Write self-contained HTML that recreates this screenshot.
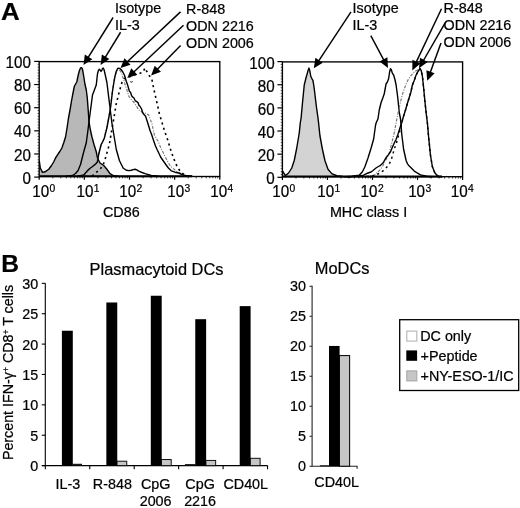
<!DOCTYPE html>
<html lang="en"><head><meta charset="utf-8"><title>Figure</title>
<style>
html,body{margin:0;padding:0;background:#fff;}
body{width:520px;height:508px;overflow:hidden;font-family:"Liberation Sans",sans-serif;}
svg{display:block;}
svg text{font-family:"Liberation Sans",sans-serif;fill:#000;stroke:#000;stroke-width:0.22px;}
.t14{font-size:14px;}
.t16{font-size:16px;}
.tk{font-size:15.6px;}
.b24{font-size:24px;font-weight:bold;fill:#000;}
.c{fill:none;stroke:#000;stroke-width:1.4;stroke-linejoin:round;stroke-linecap:round;}
</style></head><body>
<svg width="520" height="508" viewBox="0 0 520 508">
<rect width="520" height="508" fill="#fff"/>
<path d="M39.40,161.50 L40.30,168.00 L42.50,172.40 L45.00,171.80 L48.75,169.25 L51.50,165.50 L53.75,161.75 L55.50,158.00 L57.50,154.90 L59.80,151.50 L61.90,148.00 L63.80,142.50 L65.60,136.75 L67.20,127.00 L68.50,118.00 L70.00,110.00 L71.50,101.00 L73.00,93.00 L74.30,86.50 L75.60,84.00 L76.80,82.00 L78.00,76.00 L79.30,71.00 L80.40,68.20 L81.30,67.60 L82.20,68.40 L83.00,72.00 L84.00,78.00 L85.00,84.50 L86.30,90.00 L87.25,97.50 L88.20,110.00 L89.00,121.75 L90.40,130.00 L91.90,136.75 L94.00,144.50 L96.25,151.75 L97.50,158.00 L98.75,160.50 L100.00,163.00 L103.75,165.50 L106.90,169.25 L110.00,173.60 L113.75,175.75 L118.00,176.30 L118.00,176.30 L39.40,176.30 Z" fill="#b8b8b8" stroke="none"/>
<path d="M39.40,161.50 L40.30,168.00 L42.50,172.40 L45.00,171.80 L48.75,169.25 L51.50,165.50 L53.75,161.75 L55.50,158.00 L57.50,154.90 L59.80,151.50 L61.90,148.00 L63.80,142.50 L65.60,136.75 L67.20,127.00 L68.50,118.00 L70.00,110.00 L71.50,101.00 L73.00,93.00 L74.30,86.50 L75.60,84.00 L76.80,82.00 L78.00,76.00 L79.30,71.00 L80.40,68.20 L81.30,67.60 L82.20,68.40 L83.00,72.00 L84.00,78.00 L85.00,84.50 L86.30,90.00 L87.25,97.50 L88.20,110.00 L89.00,121.75 L90.40,130.00 L91.90,136.75 L94.00,144.50 L96.25,151.75 L97.50,158.00 L98.75,160.50 L100.00,163.00 L103.75,165.50 L106.90,169.25 L110.00,173.60 L113.75,175.75 L118.00,176.30" class="c"/>
<path d="M66.00,176.30 L72.50,175.50 L75.50,173.50 L78.10,170.50 L80.60,164.25 L83.10,154.25 L84.80,148.00 L86.25,143.00 L87.60,133.00 L89.00,121.75 L90.80,108.00 L92.50,95.00 L94.20,90.50 L96.25,85.00 L97.50,73.75 L98.40,70.50 L99.40,69.20 L100.30,70.40 L101.00,71.40 L101.80,70.40 L102.50,68.60 L103.20,68.10 L104.00,69.50 L105.00,73.75 L106.90,82.50 L108.75,97.50 L110.60,112.50 L111.90,123.00 L113.75,134.25 L116.25,149.25 L119.40,160.50 L123.10,168.00 L126.25,170.25 L129.00,170.60 L131.25,170.25 L133.20,169.60 L135.00,169.25 L136.80,169.90 L138.75,171.10 L142.00,172.50 L145.00,173.60 L151.25,175.50 L158.00,176.30" class="c"/>
<path d="M84.00,176.20 L88.50,170.50 L93.00,166.50 L96.80,163.00 L98.20,156.00 L100.60,146.00 L103.50,140.00 L106.00,131.00 L108.00,121.00 L110.00,110.00 L111.90,94.00 L114.20,79.00 L116.60,71.50 L118.60,70.00 L120.50,71.00 L122.00,74.50 L123.75,80.00 L125.50,86.00 L127.00,90.00 L128.75,96.25 L131.00,99.00 L133.00,101.50 L135.00,103.75 L137.00,107.00 L138.75,110.00 L141.00,111.50 L143.50,112.50 L146.00,113.50 L148.75,115.00 L150.50,120.00 L151.90,123.75 L153.20,129.50 L154.40,135.00 L156.30,138.50 L158.10,141.25 L160.00,146.00 L161.90,150.00 L164.00,154.50 L166.25,158.75 L168.50,163.00 L170.50,166.00 L172.50,168.00 L175.00,170.00 L177.50,171.75 L181.00,173.50 L186.00,175.40" fill="none" stroke="#777" stroke-width="1.15" stroke-dasharray="3 1.4 1 1.4"/>
<path d="M78.00,176.30 L83.75,174.90 L88.75,169.25 L91.50,167.30 L93.75,165.50 L95.60,164.00 L97.50,161.75 L98.75,154.25 L100.00,149.00 L101.25,144.25 L102.80,141.50 L104.40,138.00 L105.60,133.00 L106.90,128.00 L108.75,118.00 L110.60,107.50 L112.50,91.25 L113.80,83.00 L115.00,76.25 L116.20,71.50 L117.50,68.75 L118.60,68.20 L119.80,68.60 L121.25,69.60 L122.80,72.00 L124.40,75.00 L126.25,81.25 L127.80,85.60 L129.40,91.25 L130.60,92.40 L131.60,95.80 L132.50,96.90 L134.00,98.00 L135.20,100.80 L136.25,101.25 L138.00,102.60 L139.00,105.40 L140.00,106.25 L141.60,109.00 L142.50,112.50 L144.00,114.50 L145.60,116.25 L146.80,120.00 L148.75,126.25 L150.20,131.00 L151.60,134.50 L153.75,141.00 L155.50,146.00 L157.30,150.00 L159.00,153.50 L160.60,157.00 L163.00,160.50 L165.80,164.50 L168.40,168.00 L171.25,170.80 L175.00,172.20 L178.75,173.00 L182.00,174.60 L185.00,175.50 L192.00,176.30" class="c"/>
<path d="M92.00,176.00 L96.25,172.40 L100.00,169.25 L102.50,166.00 L104.40,161.75 L106.90,153.00 L109.40,144.25 L111.25,133.00 L113.75,118.75 L116.25,103.75 L119.40,91.25 L121.90,82.50 L124.40,78.75 L128.00,77.20 L131.25,76.25 L134.50,75.00 L137.50,73.75 L140.00,73.20 L142.50,72.50 L144.00,70.00 L145.00,68.00 L146.50,71.00 L148.75,75.00 L150.50,77.00 L151.90,79.40 L153.75,88.75 L155.40,96.00 L156.90,102.50 L159.40,113.75 L161.25,120.00 L164.40,130.50 L167.50,139.25 L171.25,151.75 L175.00,161.75 L177.50,167.40 L180.60,171.75 L184.40,175.00 L188.00,176.20" fill="none" stroke="#000" stroke-width="1.6" stroke-dasharray="2.1 3.4"/>
<path d="M130.3,81.6 q1,1.2 2.4,0" fill="none" stroke="#000" stroke-width="1"/>
<line x1="39.2" y1="176.35" x2="192" y2="176.35" stroke="#000" stroke-width="2"/>
<line x1="34.20" y1="177.10" x2="39.20" y2="177.10" stroke="#000" stroke-width="1.2"/><line x1="37.50" y1="174.21" x2="39.20" y2="174.21" stroke="#000" stroke-width="0.6"/><line x1="37.50" y1="171.31" x2="39.20" y2="171.31" stroke="#000" stroke-width="0.6"/><line x1="37.50" y1="168.42" x2="39.20" y2="168.42" stroke="#000" stroke-width="0.6"/><line x1="37.50" y1="165.53" x2="39.20" y2="165.53" stroke="#000" stroke-width="0.6"/><line x1="37.50" y1="162.64" x2="39.20" y2="162.64" stroke="#000" stroke-width="0.6"/><line x1="37.50" y1="159.75" x2="39.20" y2="159.75" stroke="#000" stroke-width="0.6"/><line x1="37.50" y1="156.85" x2="39.20" y2="156.85" stroke="#000" stroke-width="0.6"/><line x1="34.20" y1="153.96" x2="39.20" y2="153.96" stroke="#000" stroke-width="1.2"/><line x1="37.50" y1="151.07" x2="39.20" y2="151.07" stroke="#000" stroke-width="0.6"/><line x1="37.50" y1="148.17" x2="39.20" y2="148.17" stroke="#000" stroke-width="0.6"/><line x1="37.50" y1="145.28" x2="39.20" y2="145.28" stroke="#000" stroke-width="0.6"/><line x1="37.50" y1="142.39" x2="39.20" y2="142.39" stroke="#000" stroke-width="0.6"/><line x1="37.50" y1="139.50" x2="39.20" y2="139.50" stroke="#000" stroke-width="0.6"/><line x1="37.50" y1="136.60" x2="39.20" y2="136.60" stroke="#000" stroke-width="0.6"/><line x1="37.50" y1="133.71" x2="39.20" y2="133.71" stroke="#000" stroke-width="0.6"/><line x1="34.20" y1="130.82" x2="39.20" y2="130.82" stroke="#000" stroke-width="1.2"/><line x1="37.50" y1="127.93" x2="39.20" y2="127.93" stroke="#000" stroke-width="0.6"/><line x1="37.50" y1="125.03" x2="39.20" y2="125.03" stroke="#000" stroke-width="0.6"/><line x1="37.50" y1="122.14" x2="39.20" y2="122.14" stroke="#000" stroke-width="0.6"/><line x1="37.50" y1="119.25" x2="39.20" y2="119.25" stroke="#000" stroke-width="0.6"/><line x1="37.50" y1="116.36" x2="39.20" y2="116.36" stroke="#000" stroke-width="0.6"/><line x1="37.50" y1="113.46" x2="39.20" y2="113.46" stroke="#000" stroke-width="0.6"/><line x1="37.50" y1="110.57" x2="39.20" y2="110.57" stroke="#000" stroke-width="0.6"/><line x1="34.20" y1="107.68" x2="39.20" y2="107.68" stroke="#000" stroke-width="1.2"/><line x1="37.50" y1="104.79" x2="39.20" y2="104.79" stroke="#000" stroke-width="0.6"/><line x1="37.50" y1="101.89" x2="39.20" y2="101.89" stroke="#000" stroke-width="0.6"/><line x1="37.50" y1="99.00" x2="39.20" y2="99.00" stroke="#000" stroke-width="0.6"/><line x1="37.50" y1="96.11" x2="39.20" y2="96.11" stroke="#000" stroke-width="0.6"/><line x1="37.50" y1="93.22" x2="39.20" y2="93.22" stroke="#000" stroke-width="0.6"/><line x1="37.50" y1="90.32" x2="39.20" y2="90.32" stroke="#000" stroke-width="0.6"/><line x1="37.50" y1="87.43" x2="39.20" y2="87.43" stroke="#000" stroke-width="0.6"/><line x1="34.20" y1="84.54" x2="39.20" y2="84.54" stroke="#000" stroke-width="1.2"/><line x1="37.50" y1="81.65" x2="39.20" y2="81.65" stroke="#000" stroke-width="0.6"/><line x1="37.50" y1="78.75" x2="39.20" y2="78.75" stroke="#000" stroke-width="0.6"/><line x1="37.50" y1="75.86" x2="39.20" y2="75.86" stroke="#000" stroke-width="0.6"/><line x1="37.50" y1="72.97" x2="39.20" y2="72.97" stroke="#000" stroke-width="0.6"/><line x1="37.50" y1="70.08" x2="39.20" y2="70.08" stroke="#000" stroke-width="0.6"/><line x1="37.50" y1="67.18" x2="39.20" y2="67.18" stroke="#000" stroke-width="0.6"/><line x1="37.50" y1="64.29" x2="39.20" y2="64.29" stroke="#000" stroke-width="0.6"/><line x1="34.20" y1="61.40" x2="39.20" y2="61.40" stroke="#000" stroke-width="1.2"/><line x1="39.20" y1="176.50" x2="39.20" y2="179.70" stroke="#000" stroke-width="1.2"/><line x1="52.79" y1="176.50" x2="52.79" y2="178.30" stroke="#000" stroke-width="0.8"/><line x1="60.74" y1="176.50" x2="60.74" y2="178.30" stroke="#000" stroke-width="0.8"/><line x1="66.38" y1="176.50" x2="66.38" y2="178.30" stroke="#000" stroke-width="0.8"/><line x1="70.76" y1="176.50" x2="70.76" y2="178.30" stroke="#000" stroke-width="0.8"/><line x1="74.33" y1="176.50" x2="74.33" y2="178.30" stroke="#000" stroke-width="0.8"/><line x1="77.36" y1="176.50" x2="77.36" y2="178.30" stroke="#000" stroke-width="0.8"/><line x1="79.97" y1="176.50" x2="79.97" y2="178.30" stroke="#000" stroke-width="0.8"/><line x1="82.28" y1="176.50" x2="82.28" y2="178.30" stroke="#000" stroke-width="0.8"/><line x1="84.35" y1="176.50" x2="84.35" y2="179.70" stroke="#000" stroke-width="1.2"/><line x1="97.94" y1="176.50" x2="97.94" y2="178.30" stroke="#000" stroke-width="0.8"/><line x1="105.89" y1="176.50" x2="105.89" y2="178.30" stroke="#000" stroke-width="0.8"/><line x1="111.53" y1="176.50" x2="111.53" y2="178.30" stroke="#000" stroke-width="0.8"/><line x1="115.91" y1="176.50" x2="115.91" y2="178.30" stroke="#000" stroke-width="0.8"/><line x1="119.48" y1="176.50" x2="119.48" y2="178.30" stroke="#000" stroke-width="0.8"/><line x1="122.51" y1="176.50" x2="122.51" y2="178.30" stroke="#000" stroke-width="0.8"/><line x1="125.12" y1="176.50" x2="125.12" y2="178.30" stroke="#000" stroke-width="0.8"/><line x1="127.43" y1="176.50" x2="127.43" y2="178.30" stroke="#000" stroke-width="0.8"/><line x1="129.50" y1="176.50" x2="129.50" y2="179.70" stroke="#000" stroke-width="1.2"/><line x1="143.09" y1="176.50" x2="143.09" y2="178.30" stroke="#000" stroke-width="0.8"/><line x1="151.04" y1="176.50" x2="151.04" y2="178.30" stroke="#000" stroke-width="0.8"/><line x1="156.68" y1="176.50" x2="156.68" y2="178.30" stroke="#000" stroke-width="0.8"/><line x1="161.06" y1="176.50" x2="161.06" y2="178.30" stroke="#000" stroke-width="0.8"/><line x1="164.63" y1="176.50" x2="164.63" y2="178.30" stroke="#000" stroke-width="0.8"/><line x1="167.66" y1="176.50" x2="167.66" y2="178.30" stroke="#000" stroke-width="0.8"/><line x1="170.27" y1="176.50" x2="170.27" y2="178.30" stroke="#000" stroke-width="0.8"/><line x1="172.58" y1="176.50" x2="172.58" y2="178.30" stroke="#000" stroke-width="0.8"/><line x1="174.65" y1="176.50" x2="174.65" y2="179.70" stroke="#000" stroke-width="1.2"/><line x1="188.24" y1="176.50" x2="188.24" y2="178.30" stroke="#000" stroke-width="0.8"/><line x1="196.19" y1="176.50" x2="196.19" y2="178.30" stroke="#000" stroke-width="0.8"/><line x1="201.83" y1="176.50" x2="201.83" y2="178.30" stroke="#000" stroke-width="0.8"/><line x1="206.21" y1="176.50" x2="206.21" y2="178.30" stroke="#000" stroke-width="0.8"/><line x1="209.78" y1="176.50" x2="209.78" y2="178.30" stroke="#000" stroke-width="0.8"/><line x1="212.81" y1="176.50" x2="212.81" y2="178.30" stroke="#000" stroke-width="0.8"/><line x1="215.42" y1="176.50" x2="215.42" y2="178.30" stroke="#000" stroke-width="0.8"/><line x1="217.73" y1="176.50" x2="217.73" y2="178.30" stroke="#000" stroke-width="0.8"/><line x1="219.80" y1="176.50" x2="219.80" y2="179.70" stroke="#000" stroke-width="1.2"/><rect x="39.20" y="61.60" width="180.60" height="114.90" fill="none" stroke="#000" stroke-width="1.35"/>
<path d="M282.40,172.50 L283.00,171.60 L283.80,173.20 L285.50,175.50 L288.60,173.00 L291.75,168.00 L294.25,160.50 L296.75,148.00 L299.25,133.00 L300.25,123.00 L301.10,118.00 L302.40,103.75 L304.25,85.00 L306.10,77.50 L307.20,73.60 L308.20,70.00 L309.00,68.10 L309.80,70.60 L310.75,76.25 L312.00,78.80 L313.00,80.60 L314.25,88.75 L316.50,107.50 L318.00,118.00 L318.60,123.00 L319.90,135.50 L322.40,149.25 L324.90,160.50 L328.00,169.25 L331.75,173.60 L336.75,175.75 L343.00,176.50 L350.00,176.70 L350.00,176.70 L282.40,176.70 Z" fill="#d3d3d3" stroke="none"/>
<path d="M282.40,172.50 L283.00,171.60 L283.80,173.20 L285.50,175.50 L288.60,173.00 L291.75,168.00 L294.25,160.50 L296.75,148.00 L299.25,133.00 L300.25,123.00 L301.10,118.00 L302.40,103.75 L304.25,85.00 L306.10,77.50 L307.20,73.60 L308.20,70.00 L309.00,68.10 L309.80,70.60 L310.75,76.25 L312.00,78.80 L313.00,80.60 L314.25,88.75 L316.50,107.50 L318.00,118.00 L318.60,123.00 L319.90,135.50 L322.40,149.25 L324.90,160.50 L328.00,169.25 L331.75,173.60 L336.75,175.75 L343.00,176.50 L350.00,176.70" class="c"/>
<path d="M345.00,176.70 L352.00,176.30 L359.25,175.25 L362.40,171.75 L364.90,166.75 L368.00,158.00 L371.10,148.00 L373.60,139.25 L375.50,125.50 L376.10,123.00 L378.00,118.75 L379.25,110.00 L381.10,102.50 L382.80,98.00 L384.25,93.75 L386.10,83.75 L387.40,82.00 L388.60,78.75 L389.60,72.00 L390.50,68.75 L391.40,70.00 L392.40,73.40 L393.60,75.00 L394.80,79.00 L396.10,85.00 L397.75,97.50 L399.25,112.50 L400.50,118.75 L401.75,134.25 L403.60,149.25 L406.10,160.50 L407.50,163.80 L409.25,166.10 L414.25,171.10 L420.50,174.90 L426.75,176.25 L432.00,176.70" class="c"/>
<path d="M366.00,176.30 L374.25,175.25 L377.50,172.50 L380.50,169.25 L383.00,165.50 L385.50,160.50 L387.40,157.00 L389.25,153.00 L391.75,143.00 L394.25,133.00 L396.10,123.00 L397.80,114.00 L399.25,107.50 L401.00,100.00 L403.00,92.50 L404.80,87.50 L406.75,82.50 L408.50,79.00 L410.50,76.25 L413.00,73.30 L415.50,71.25 L418.00,69.80 L420.00,69.40" fill="none" stroke="#777" stroke-width="1.15" stroke-dasharray="3 1.4 1 1.4"/>
<path d="M350.00,176.70 L357.00,176.20 L363.00,175.50 L366.00,173.80 L368.00,173.00 L371.00,172.00 L373.00,170.50 L376.00,168.00 L378.00,166.75 L380.50,165.30 L383.00,163.00 L385.00,159.50 L386.75,156.75 L388.50,154.60 L390.50,151.75 L392.50,147.00 L394.25,143.00 L396.00,139.50 L398.00,134.25 L401.10,124.25 L401.75,123.00 L403.00,118.00 L405.50,110.00 L407.50,103.00 L409.25,97.50 L410.80,92.50 L412.40,85.00 L414.20,80.50 L416.10,75.00 L418.00,71.50 L419.90,68.75 L421.20,70.50 L422.40,76.25 L423.60,87.50 L424.90,101.25 L426.10,112.50 L427.40,123.00 L428.60,136.75 L430.50,155.50 L432.40,166.75 L434.90,173.00 L438.00,176.25 L442.00,176.70" class="c"/>
<path d="M372.00,176.20 L380.50,173.00 L385.50,168.60 L389.25,164.25 L391.75,158.00 L394.25,149.25 L396.40,143.00 L398.60,135.50 L401.20,126.00 L401.75,123.00 L403.00,118.00 L405.50,110.00 L407.50,103.00 L409.25,97.50 L410.80,92.50 L412.40,85.00 L414.20,80.50 L416.10,75.00 L418.00,71.50 L419.90,68.75 L421.20,70.50 L422.40,76.25 L423.60,87.50 L424.90,101.25 L426.10,112.50 L427.40,123.00 L428.60,136.75 L430.50,155.50 L432.40,166.75 L434.90,173.00 L438.00,176.25 L442.00,176.70" fill="none" stroke="#000" stroke-width="1.45" stroke-dasharray="2.1 3.4"/>
<line x1="282.4" y1="176.55" x2="442" y2="176.55" stroke="#000" stroke-width="2"/>
<line x1="277.40" y1="177.30" x2="282.40" y2="177.30" stroke="#000" stroke-width="1.2"/><line x1="280.70" y1="174.41" x2="282.40" y2="174.41" stroke="#000" stroke-width="0.6"/><line x1="280.70" y1="171.51" x2="282.40" y2="171.51" stroke="#000" stroke-width="0.6"/><line x1="280.70" y1="168.62" x2="282.40" y2="168.62" stroke="#000" stroke-width="0.6"/><line x1="280.70" y1="165.73" x2="282.40" y2="165.73" stroke="#000" stroke-width="0.6"/><line x1="280.70" y1="162.84" x2="282.40" y2="162.84" stroke="#000" stroke-width="0.6"/><line x1="280.70" y1="159.94" x2="282.40" y2="159.94" stroke="#000" stroke-width="0.6"/><line x1="280.70" y1="157.05" x2="282.40" y2="157.05" stroke="#000" stroke-width="0.6"/><line x1="277.40" y1="154.16" x2="282.40" y2="154.16" stroke="#000" stroke-width="1.2"/><line x1="280.70" y1="151.27" x2="282.40" y2="151.27" stroke="#000" stroke-width="0.6"/><line x1="280.70" y1="148.37" x2="282.40" y2="148.37" stroke="#000" stroke-width="0.6"/><line x1="280.70" y1="145.48" x2="282.40" y2="145.48" stroke="#000" stroke-width="0.6"/><line x1="280.70" y1="142.59" x2="282.40" y2="142.59" stroke="#000" stroke-width="0.6"/><line x1="280.70" y1="139.70" x2="282.40" y2="139.70" stroke="#000" stroke-width="0.6"/><line x1="280.70" y1="136.80" x2="282.40" y2="136.80" stroke="#000" stroke-width="0.6"/><line x1="280.70" y1="133.91" x2="282.40" y2="133.91" stroke="#000" stroke-width="0.6"/><line x1="277.40" y1="131.02" x2="282.40" y2="131.02" stroke="#000" stroke-width="1.2"/><line x1="280.70" y1="128.13" x2="282.40" y2="128.13" stroke="#000" stroke-width="0.6"/><line x1="280.70" y1="125.23" x2="282.40" y2="125.23" stroke="#000" stroke-width="0.6"/><line x1="280.70" y1="122.34" x2="282.40" y2="122.34" stroke="#000" stroke-width="0.6"/><line x1="280.70" y1="119.45" x2="282.40" y2="119.45" stroke="#000" stroke-width="0.6"/><line x1="280.70" y1="116.56" x2="282.40" y2="116.56" stroke="#000" stroke-width="0.6"/><line x1="280.70" y1="113.66" x2="282.40" y2="113.66" stroke="#000" stroke-width="0.6"/><line x1="280.70" y1="110.77" x2="282.40" y2="110.77" stroke="#000" stroke-width="0.6"/><line x1="277.40" y1="107.88" x2="282.40" y2="107.88" stroke="#000" stroke-width="1.2"/><line x1="280.70" y1="104.99" x2="282.40" y2="104.99" stroke="#000" stroke-width="0.6"/><line x1="280.70" y1="102.09" x2="282.40" y2="102.09" stroke="#000" stroke-width="0.6"/><line x1="280.70" y1="99.20" x2="282.40" y2="99.20" stroke="#000" stroke-width="0.6"/><line x1="280.70" y1="96.31" x2="282.40" y2="96.31" stroke="#000" stroke-width="0.6"/><line x1="280.70" y1="93.42" x2="282.40" y2="93.42" stroke="#000" stroke-width="0.6"/><line x1="280.70" y1="90.52" x2="282.40" y2="90.52" stroke="#000" stroke-width="0.6"/><line x1="280.70" y1="87.63" x2="282.40" y2="87.63" stroke="#000" stroke-width="0.6"/><line x1="277.40" y1="84.74" x2="282.40" y2="84.74" stroke="#000" stroke-width="1.2"/><line x1="280.70" y1="81.85" x2="282.40" y2="81.85" stroke="#000" stroke-width="0.6"/><line x1="280.70" y1="78.95" x2="282.40" y2="78.95" stroke="#000" stroke-width="0.6"/><line x1="280.70" y1="76.06" x2="282.40" y2="76.06" stroke="#000" stroke-width="0.6"/><line x1="280.70" y1="73.17" x2="282.40" y2="73.17" stroke="#000" stroke-width="0.6"/><line x1="280.70" y1="70.28" x2="282.40" y2="70.28" stroke="#000" stroke-width="0.6"/><line x1="280.70" y1="67.38" x2="282.40" y2="67.38" stroke="#000" stroke-width="0.6"/><line x1="280.70" y1="64.49" x2="282.40" y2="64.49" stroke="#000" stroke-width="0.6"/><line x1="277.40" y1="61.60" x2="282.40" y2="61.60" stroke="#000" stroke-width="1.2"/><line x1="282.40" y1="176.70" x2="282.40" y2="179.90" stroke="#000" stroke-width="1.2"/><line x1="295.96" y1="176.70" x2="295.96" y2="178.50" stroke="#000" stroke-width="0.8"/><line x1="303.89" y1="176.70" x2="303.89" y2="178.50" stroke="#000" stroke-width="0.8"/><line x1="309.52" y1="176.70" x2="309.52" y2="178.50" stroke="#000" stroke-width="0.8"/><line x1="313.89" y1="176.70" x2="313.89" y2="178.50" stroke="#000" stroke-width="0.8"/><line x1="317.46" y1="176.70" x2="317.46" y2="178.50" stroke="#000" stroke-width="0.8"/><line x1="320.47" y1="176.70" x2="320.47" y2="178.50" stroke="#000" stroke-width="0.8"/><line x1="323.08" y1="176.70" x2="323.08" y2="178.50" stroke="#000" stroke-width="0.8"/><line x1="325.39" y1="176.70" x2="325.39" y2="178.50" stroke="#000" stroke-width="0.8"/><line x1="327.45" y1="176.70" x2="327.45" y2="179.90" stroke="#000" stroke-width="1.2"/><line x1="341.01" y1="176.70" x2="341.01" y2="178.50" stroke="#000" stroke-width="0.8"/><line x1="348.94" y1="176.70" x2="348.94" y2="178.50" stroke="#000" stroke-width="0.8"/><line x1="354.57" y1="176.70" x2="354.57" y2="178.50" stroke="#000" stroke-width="0.8"/><line x1="358.94" y1="176.70" x2="358.94" y2="178.50" stroke="#000" stroke-width="0.8"/><line x1="362.51" y1="176.70" x2="362.51" y2="178.50" stroke="#000" stroke-width="0.8"/><line x1="365.52" y1="176.70" x2="365.52" y2="178.50" stroke="#000" stroke-width="0.8"/><line x1="368.13" y1="176.70" x2="368.13" y2="178.50" stroke="#000" stroke-width="0.8"/><line x1="370.44" y1="176.70" x2="370.44" y2="178.50" stroke="#000" stroke-width="0.8"/><line x1="372.50" y1="176.70" x2="372.50" y2="179.90" stroke="#000" stroke-width="1.2"/><line x1="386.06" y1="176.70" x2="386.06" y2="178.50" stroke="#000" stroke-width="0.8"/><line x1="393.99" y1="176.70" x2="393.99" y2="178.50" stroke="#000" stroke-width="0.8"/><line x1="399.62" y1="176.70" x2="399.62" y2="178.50" stroke="#000" stroke-width="0.8"/><line x1="403.99" y1="176.70" x2="403.99" y2="178.50" stroke="#000" stroke-width="0.8"/><line x1="407.56" y1="176.70" x2="407.56" y2="178.50" stroke="#000" stroke-width="0.8"/><line x1="410.57" y1="176.70" x2="410.57" y2="178.50" stroke="#000" stroke-width="0.8"/><line x1="413.18" y1="176.70" x2="413.18" y2="178.50" stroke="#000" stroke-width="0.8"/><line x1="415.49" y1="176.70" x2="415.49" y2="178.50" stroke="#000" stroke-width="0.8"/><line x1="417.55" y1="176.70" x2="417.55" y2="179.90" stroke="#000" stroke-width="1.2"/><line x1="431.11" y1="176.70" x2="431.11" y2="178.50" stroke="#000" stroke-width="0.8"/><line x1="439.04" y1="176.70" x2="439.04" y2="178.50" stroke="#000" stroke-width="0.8"/><line x1="444.67" y1="176.70" x2="444.67" y2="178.50" stroke="#000" stroke-width="0.8"/><line x1="449.04" y1="176.70" x2="449.04" y2="178.50" stroke="#000" stroke-width="0.8"/><line x1="452.61" y1="176.70" x2="452.61" y2="178.50" stroke="#000" stroke-width="0.8"/><line x1="455.62" y1="176.70" x2="455.62" y2="178.50" stroke="#000" stroke-width="0.8"/><line x1="458.23" y1="176.70" x2="458.23" y2="178.50" stroke="#000" stroke-width="0.8"/><line x1="460.54" y1="176.70" x2="460.54" y2="178.50" stroke="#000" stroke-width="0.8"/><line x1="462.60" y1="176.70" x2="462.60" y2="179.90" stroke="#000" stroke-width="1.2"/><rect x="282.40" y="61.90" width="180.20" height="114.80" fill="none" stroke="#000" stroke-width="1.35"/>
<text transform="translate(30.90,183.66) scale(0.975,1)" text-anchor="end" class="tk">0</text><text transform="translate(30.90,160.52) scale(0.975,1)" text-anchor="end" class="tk">20</text><text transform="translate(30.90,137.38) scale(0.975,1)" text-anchor="end" class="tk">40</text><text transform="translate(30.90,114.24) scale(0.975,1)" text-anchor="end" class="tk">60</text><text transform="translate(30.90,91.10) scale(0.975,1)" text-anchor="end" class="tk">80</text><text transform="translate(30.90,67.96) scale(0.975,1)" text-anchor="end" class="tk">100</text><text transform="translate(32.20,197.10) scale(0.975,1)" class="tk">10</text><text transform="translate(49.50,191.80) scale(1.0,1)" font-size="10.3">0</text><text transform="translate(76.45,197.10) scale(0.975,1)" class="tk">10</text><text transform="translate(93.75,191.80) scale(1.0,1)" font-size="10.3">1</text><text transform="translate(119.30,197.10) scale(0.975,1)" class="tk">10</text><text transform="translate(136.60,191.80) scale(1.0,1)" font-size="10.3">2</text><text transform="translate(167.20,197.10) scale(0.975,1)" class="tk">10</text><text transform="translate(184.50,191.80) scale(1.0,1)" font-size="10.3">3</text><text transform="translate(210.20,197.10) scale(0.975,1)" class="tk">10</text><text transform="translate(227.50,191.80) scale(1.0,1)" font-size="10.3">4</text>
<text transform="translate(274.60,184.26) scale(0.975,1)" text-anchor="end" class="tk">0</text><text transform="translate(274.60,161.12) scale(0.975,1)" text-anchor="end" class="tk">20</text><text transform="translate(274.60,137.98) scale(0.975,1)" text-anchor="end" class="tk">40</text><text transform="translate(274.60,114.84) scale(0.975,1)" text-anchor="end" class="tk">60</text><text transform="translate(274.60,91.70) scale(0.975,1)" text-anchor="end" class="tk">80</text><text transform="translate(274.60,68.56) scale(0.975,1)" text-anchor="end" class="tk">100</text><text transform="translate(272.30,197.30) scale(0.975,1)" class="tk">10</text><text transform="translate(289.60,192.00) scale(1.0,1)" font-size="10.3">0</text><text transform="translate(317.30,197.30) scale(0.975,1)" class="tk">10</text><text transform="translate(334.60,192.00) scale(1.0,1)" font-size="10.3">1</text><text transform="translate(360.60,197.30) scale(0.975,1)" class="tk">10</text><text transform="translate(377.90,192.00) scale(1.0,1)" font-size="10.3">2</text><text transform="translate(408.15,197.30) scale(0.975,1)" class="tk">10</text><text transform="translate(425.45,192.00) scale(1.0,1)" font-size="10.3">3</text><text transform="translate(450.70,197.30) scale(0.975,1)" class="tk">10</text><text transform="translate(468.00,192.00) scale(1.0,1)" font-size="10.3">4</text>
<line x1="113.10" y1="17.50" x2="88.05" y2="57.70" stroke="#000" stroke-width="1.45"/><polygon points="83.50,65.00 84.84,54.53 92.31,59.18" fill="#000"/>
<line x1="120.60" y1="32.25" x2="105.08" y2="57.66" stroke="#000" stroke-width="1.45"/><polygon points="100.60,65.00 101.85,54.51 109.36,59.10" fill="#000"/>
<line x1="180.50" y1="11.90" x2="126.78" y2="62.22" stroke="#000" stroke-width="1.45"/><polygon points="120.50,68.10 124.50,58.33 130.51,64.75" fill="#000"/>
<line x1="183.50" y1="25.20" x2="133.56" y2="72.21" stroke="#000" stroke-width="1.45"/><polygon points="127.30,78.10 131.27,68.32 137.31,74.72" fill="#000"/>
<line x1="180.60" y1="45.60" x2="157.13" y2="69.47" stroke="#000" stroke-width="1.45"/><polygon points="151.10,75.60 154.69,65.67 160.97,71.84" fill="#000"/>
<line x1="351.00" y1="11.90" x2="318.54" y2="61.12" stroke="#000" stroke-width="1.45"/><polygon points="313.80,68.30 315.41,57.86 322.76,62.71" fill="#000"/>
<line x1="370.80" y1="35.60" x2="383.96" y2="60.31" stroke="#000" stroke-width="1.45"/><polygon points="388.00,67.90 379.60,61.49 387.37,57.36" fill="#000"/>
<line x1="441.50" y1="8.75" x2="415.98" y2="62.63" stroke="#000" stroke-width="1.45"/><polygon points="412.30,70.40 412.43,59.84 420.39,63.61" fill="#000"/>
<line x1="445.00" y1="23.10" x2="423.30" y2="60.75" stroke="#000" stroke-width="1.45"/><polygon points="419.00,68.20 419.98,57.69 427.61,62.08" fill="#000"/>
<line x1="441.00" y1="43.10" x2="430.16" y2="72.72" stroke="#000" stroke-width="1.45"/><polygon points="427.20,80.80 426.37,70.27 434.63,73.30" fill="#000"/>
<text transform="translate(1.1,20) scale(1.08,1)" class="b24">A</text>
<text transform="translate(115,12.6) scale(1.025,1)" class="t14">Isotype</text>
<text transform="translate(115,29.5) scale(1.025,1)" class="t14">IL-3</text>
<text transform="translate(186.1,13.7) scale(1.025,1)" class="t14">R-848</text>
<text transform="translate(186.1,31.1) scale(1.025,1)" class="t14">ODN 2216</text>
<text transform="translate(186.1,48.3) scale(1.025,1)" class="t14">ODN 2006</text>
<text transform="translate(352.6,13.1) scale(1.025,1)" class="t14">Isotype</text>
<text transform="translate(352.6,29.8) scale(1.025,1)" class="t14">IL-3</text>
<text transform="translate(443.6,12.6) scale(1.025,1)" class="t14">R-848</text>
<text transform="translate(443.6,30) scale(1.025,1)" class="t14">ODN 2216</text>
<text transform="translate(443.6,47.3) scale(1.025,1)" class="t14">ODN 2006</text>
<text transform="translate(103,216.8) scale(1.025,1)" class="t14">CD86</text>
<text transform="translate(329.9,217.1) scale(1.025,1)" class="t14">MHC class I</text>
<text transform="translate(1.2,271.8) scale(1.025,1)" class="b24">B</text>
<text transform="translate(89.6,274.6) scale(1.025,1)" class="t16">Plasmacytoid DCs</text>
<text transform="translate(314.8,274.4) scale(1.025,1)" class="t16">MoDCs</text>
<path d="M45.3,283.35 V469.20 M41.8,465.6 H267.55" stroke="#000" stroke-width="1.1" fill="none"/>
<line x1="41.8" y1="465.60" x2="45.3" y2="465.60" stroke="#000" stroke-width="1.1"/>
<text transform="translate(38.30,471.20) scale(1.025,1)" text-anchor="end" class="t14">0</text>
<line x1="41.8" y1="435.23" x2="45.3" y2="435.23" stroke="#000" stroke-width="1.1"/>
<text transform="translate(38.30,440.83) scale(1.025,1)" text-anchor="end" class="t14">5</text>
<line x1="41.8" y1="404.85" x2="45.3" y2="404.85" stroke="#000" stroke-width="1.1"/>
<text transform="translate(38.30,410.45) scale(1.025,1)" text-anchor="end" class="t14">10</text>
<line x1="41.8" y1="374.48" x2="45.3" y2="374.48" stroke="#000" stroke-width="1.1"/>
<text transform="translate(38.30,380.08) scale(1.025,1)" text-anchor="end" class="t14">15</text>
<line x1="41.8" y1="344.10" x2="45.3" y2="344.10" stroke="#000" stroke-width="1.1"/>
<text transform="translate(38.30,349.70) scale(1.025,1)" text-anchor="end" class="t14">20</text>
<line x1="41.8" y1="313.73" x2="45.3" y2="313.73" stroke="#000" stroke-width="1.1"/>
<text transform="translate(38.30,319.33) scale(1.025,1)" text-anchor="end" class="t14">25</text>
<line x1="41.8" y1="283.35" x2="45.3" y2="283.35" stroke="#000" stroke-width="1.1"/>
<text transform="translate(38.30,288.95) scale(1.025,1)" text-anchor="end" class="t14">30</text>
<line x1="89.75" y1="465.6" x2="89.75" y2="469.20" stroke="#000" stroke-width="1.1"/>
<line x1="134.20" y1="465.6" x2="134.20" y2="469.20" stroke="#000" stroke-width="1.1"/>
<line x1="178.65" y1="465.6" x2="178.65" y2="469.20" stroke="#000" stroke-width="1.1"/>
<line x1="223.10" y1="465.6" x2="223.10" y2="469.20" stroke="#000" stroke-width="1.1"/>
<line x1="267.55" y1="465.6" x2="267.55" y2="469.20" stroke="#000" stroke-width="1.1"/>
<rect x="72.60" y="463.78" width="9.4" height="1.82" fill="#1a1a1a" stroke="none"/>
<rect x="61.90" y="330.74" width="10.9" height="134.87" fill="#000"/>
<text transform="translate(67.93,488.50) scale(1.025,1)" text-anchor="middle" class="t14">IL-3</text>
<rect x="116.85" y="461.23" width="9.9" height="4.37" fill="#c6c6c6" stroke="#111" stroke-width="1"/>
<rect x="106.35" y="302.49" width="10.9" height="163.11" fill="#000"/>
<text transform="translate(112.38,488.50) scale(1.025,1)" text-anchor="middle" class="t14">R-848</text>
<rect x="161.30" y="459.53" width="9.9" height="6.08" fill="#c6c6c6" stroke="#111" stroke-width="1"/>
<rect x="150.80" y="295.74" width="10.9" height="169.86" fill="#000"/>
<text transform="translate(155.62,488.50) scale(1.025,1)" text-anchor="middle" class="t14">CpG</text>
<text transform="translate(155.62,505.50) scale(1.025,1)" text-anchor="middle" class="t14">2006</text>
<rect x="184.95" y="464.10" width="10.3" height="1.5" fill="#111"/>
<rect x="205.75" y="460.44" width="9.9" height="5.16" fill="#c6c6c6" stroke="#111" stroke-width="1"/>
<rect x="195.25" y="319.19" width="10.9" height="146.41" fill="#000"/>
<text transform="translate(200.08,488.50) scale(1.025,1)" text-anchor="middle" class="t14">CpG</text>
<text transform="translate(200.08,505.50) scale(1.025,1)" text-anchor="middle" class="t14">2216</text>
<rect x="250.20" y="458.31" width="9.9" height="7.29" fill="#c6c6c6" stroke="#111" stroke-width="1"/>
<rect x="239.70" y="306.13" width="10.9" height="159.47" fill="#000"/>
<text transform="translate(245.73,488.50) scale(1.025,1)" text-anchor="middle" class="t14">CD40L</text>
<text transform="translate(13.2,460.1) rotate(-90) scale(1.021,1)" class="t14">Percent IFN-γ<tspan dy="-4.6" font-size="8.4">+</tspan><tspan dy="4.6"> CD8</tspan><tspan dy="-4.6" font-size="8.4">+</tspan><tspan dy="4.6"> T cells</tspan></text>
<path d="M312.1,285.75 V466.25 H357.10 V468.75" stroke="#222" stroke-width="1.1" fill="none"/>
<line x1="309.5" y1="466.25" x2="312.1" y2="466.25" stroke="#222" stroke-width="1"/>
<text transform="translate(305.90,471.25) scale(1.025,1)" text-anchor="end" class="t14">0</text>
<line x1="309.5" y1="436.25" x2="312.1" y2="436.25" stroke="#222" stroke-width="1"/>
<text transform="translate(305.90,441.25) scale(1.025,1)" text-anchor="end" class="t14">5</text>
<line x1="309.5" y1="406.25" x2="312.1" y2="406.25" stroke="#222" stroke-width="1"/>
<text transform="translate(305.90,411.25) scale(1.025,1)" text-anchor="end" class="t14">10</text>
<line x1="309.5" y1="376.25" x2="312.1" y2="376.25" stroke="#222" stroke-width="1"/>
<text transform="translate(305.90,381.25) scale(1.025,1)" text-anchor="end" class="t14">15</text>
<line x1="309.5" y1="346.25" x2="312.1" y2="346.25" stroke="#222" stroke-width="1"/>
<text transform="translate(305.90,351.25) scale(1.025,1)" text-anchor="end" class="t14">20</text>
<line x1="309.5" y1="316.25" x2="312.1" y2="316.25" stroke="#222" stroke-width="1"/>
<text transform="translate(305.90,321.25) scale(1.025,1)" text-anchor="end" class="t14">25</text>
<line x1="309.5" y1="286.25" x2="312.1" y2="286.25" stroke="#222" stroke-width="1"/>
<text transform="translate(305.90,291.25) scale(1.025,1)" text-anchor="end" class="t14">30</text>
<rect x="320" y="465.35" width="9.2" height="0.9" fill="#000"/>
<rect x="339.4" y="355.55" width="10.2" height="110.70" fill="#c6c6c6" stroke="#111" stroke-width="1.1"/>
<rect x="329.0" y="345.95" width="10.6" height="120.30" fill="#000"/>
<text transform="translate(336.6,487.4) scale(1.025,1)" text-anchor="middle" class="t14">CD40L</text>
<rect x="399.7" y="319.7" width="119" height="70.8" fill="#fff" stroke="#000" stroke-width="1.3"/>
<rect x="406.8" y="331.1" width="10" height="10" fill="#fff" stroke="#b5b5b5" stroke-width="1.1"/>
<rect x="406.3" y="350.4" width="10.8" height="10.4" fill="#000"/>
<rect x="406.8" y="370.9" width="10" height="10" fill="#c6c6c6" stroke="#a8a8a8" stroke-width="1.1"/>
<text transform="translate(420.2,340.9) scale(1.025,1)" class="t14">DC only</text>
<text transform="translate(420.6,360.7) scale(1.025,1)" class="t14">+Peptide</text>
<text transform="translate(420.6,380.5) scale(1.025,1)" class="t14">+NY-ESO-1/IC</text>
</svg>
</body></html>
